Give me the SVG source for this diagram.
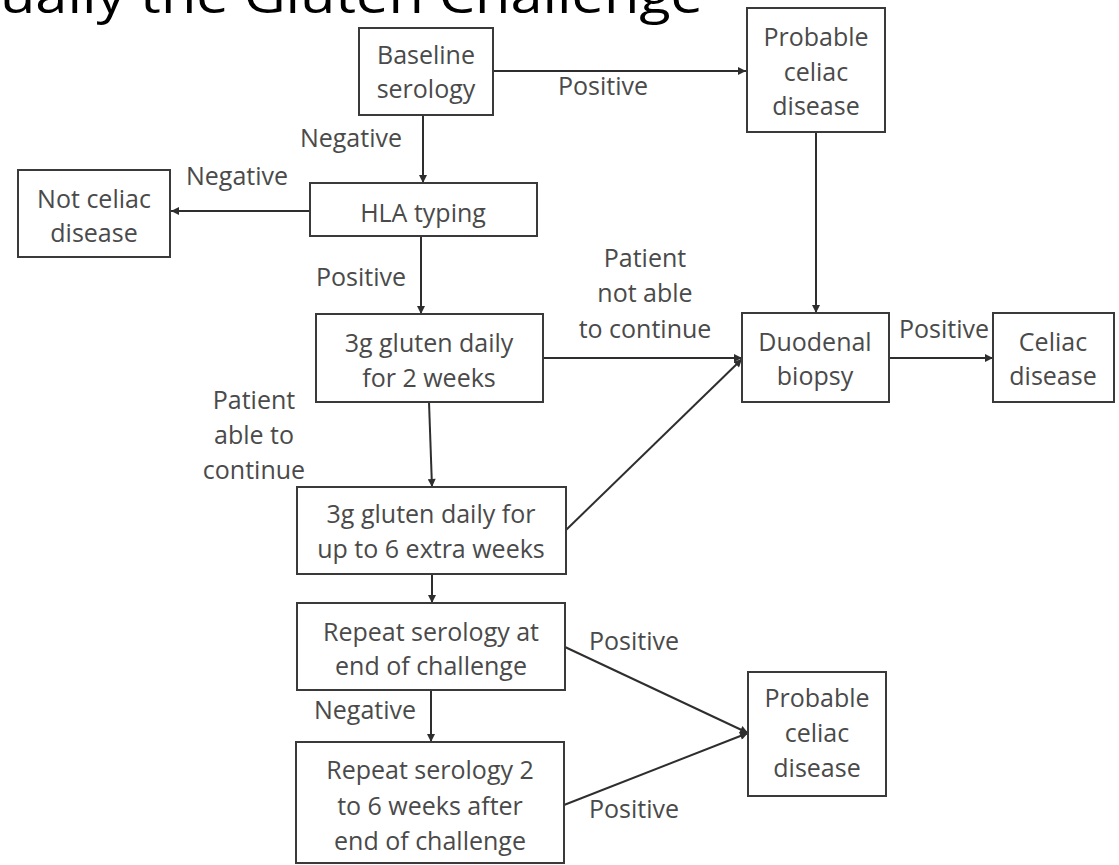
<svg xmlns="http://www.w3.org/2000/svg" width="1119" height="865" viewBox="0 0 1119 865">
<defs>
<style>
.box{fill:#fff;stroke:#3a3a3a;stroke-width:2}
.t{font-family:"Open Sans","Liberation Sans",sans-serif;font-size:25px;fill:#4a4a4a;text-anchor:middle}
.lbl{font-family:"Open Sans","Liberation Sans",sans-serif;font-size:25px;fill:#4a4a4a;text-anchor:middle}
.c{fill:none;stroke:#2e2e2e;stroke-width:2}
.title{font-family:"Open Sans","Liberation Sans",sans-serif;font-size:50px;fill:#000}
</style>
<marker id="ah" viewBox="0 0 10 10" refX="10" refY="5" markerWidth="9" markerHeight="8" markerUnits="userSpaceOnUse" orient="auto">
<path d="M0,0 L10,5 L0,10 z" fill="#2e2e2e"/>
</marker>
</defs>
<rect width="1119" height="865" fill="#fff"/>
<text class="title" x="0" y="13" textLength="703" lengthAdjust="spacingAndGlyphs">ually the Gluten Challenge</text>

<g id="connectors">
<line class="c" x1="493" y1="71" x2="746" y2="71" marker-end="url(#ah)"/>
<line class="c" x1="423" y1="115" x2="423" y2="183" marker-end="url(#ah)"/>
<line class="c" x1="310" y1="211" x2="171" y2="211" marker-end="url(#ah)"/>
<line class="c" x1="421" y1="236" x2="421" y2="314" marker-end="url(#ah)"/>
<line class="c" x1="816" y1="132" x2="816" y2="313" marker-end="url(#ah)"/>
<line class="c" x1="543" y1="358" x2="742" y2="358" marker-end="url(#ah)"/>
<line class="c" x1="889" y1="358" x2="993" y2="358" marker-end="url(#ah)"/>
<line class="c" x1="429" y1="402" x2="432" y2="487" marker-end="url(#ah)"/>
<line class="c" x1="566" y1="530" x2="742" y2="359" marker-end="url(#ah)"/>
<line class="c" x1="432" y1="574" x2="432" y2="603" marker-end="url(#ah)"/>
<line class="c" x1="565" y1="647" x2="748" y2="733" marker-end="url(#ah)"/>
<line class="c" x1="431" y1="690" x2="431" y2="742" marker-end="url(#ah)"/>
<line class="c" x1="564" y1="805" x2="748" y2="733" marker-end="url(#ah)"/>
<text class="lbl" x="603" y="95">Positive</text>
<text class="lbl" x="402" y="147" style="text-anchor:end">Negative</text>
<text class="lbl" x="237" y="185">Negative</text>
<text class="lbl" x="361" y="286">Positive</text>
<text class="lbl" x="645" y="267">Patient</text>
<text class="lbl" x="645" y="302">not able</text>
<text class="lbl" x="645" y="338">to continue</text>
<text class="lbl" x="944" y="338">Positive</text>
<text class="lbl" x="254" y="409">Patient</text>
<text class="lbl" x="254" y="444">able to</text>
<text class="lbl" x="254" y="479">continue</text>
<text class="lbl" x="634" y="650">Positive</text>
<text class="lbl" x="365" y="719">Negative</text>
<text class="lbl" x="634" y="818">Positive</text>
</g>

<g id="baseline">
<rect class="box" x="359" y="28" width="134" height="87"/>
<text class="t" x="426" y="64">Baseline</text>
<text class="t" x="426" y="98">serology</text>
</g>
<g id="probable1">
<rect class="box" x="747" y="8" width="138" height="124"/>
<text class="t" x="816" y="46">Probable</text>
<text class="t" x="816" y="81">celiac</text>
<text class="t" x="816" y="115">disease</text>
</g>
<g id="hla">
<rect class="box" x="310" y="183" width="227" height="53"/>
<text class="t" x="423" y="222">HLA typing</text>
</g>
<g id="notceliac">
<rect class="box" x="18" y="170" width="152" height="87"/>
<text class="t" x="94" y="208">Not celiac</text>
<text class="t" x="94" y="242">disease</text>
</g>
<g id="gluten2">
<rect class="box" x="316" y="314" width="227" height="88"/>
<text class="t" x="429" y="352">3g gluten daily</text>
<text class="t" x="429" y="387">for 2 weeks</text>
</g>
<g id="duodenal">
<rect class="box" x="742" y="313" width="147" height="89"/>
<text class="t" x="815" y="351">Duodenal</text>
<text class="t" x="815" y="385">biopsy</text>
</g>
<g id="celiac">
<rect class="box" x="993" y="313" width="121" height="89"/>
<text class="t" x="1053" y="351">Celiac</text>
<text class="t" x="1053" y="385">disease</text>
</g>
<g id="gluten6">
<rect class="box" x="297" y="487" width="269" height="87"/>
<text class="t" x="431" y="523">3g gluten daily for</text>
<text class="t" x="431" y="558">up to 6 extra weeks</text>
</g>
<g id="repeat1">
<rect class="box" x="297" y="603" width="268" height="87"/>
<text class="t" x="431" y="641">Repeat serology at</text>
<text class="t" x="431" y="675">end of challenge</text>
</g>
<g id="repeat2">
<rect class="box" x="296" y="742" width="268" height="121"/>
<text class="t" x="430" y="779">Repeat serology 2</text>
<text class="t" x="430" y="815">to 6 weeks after</text>
<text class="t" x="430" y="850">end of challenge</text>
</g>
<g id="probable2">
<rect class="box" x="748" y="672" width="138" height="124"/>
<text class="t" x="817" y="707">Probable</text>
<text class="t" x="817" y="742">celiac</text>
<text class="t" x="817" y="777">disease</text>
</g>
</svg>
